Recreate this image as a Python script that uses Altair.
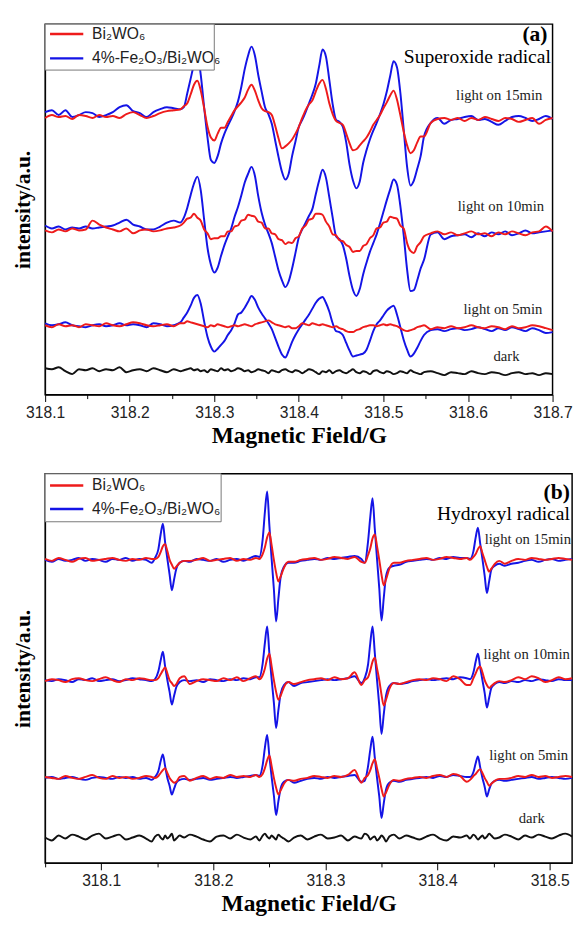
import altair as alt
import pandas as pd

S1 = "Bi₂WO₆"
S2 = "4%-Fe₂O₃/Bi₂WO₆"
RED = "#ee1b1b"
BLUE = "#1414e6"

# ================= panel (a): superoxide radical =================
a_field = ([318.100, 318.108, 318.116, 318.124, 318.132, 318.140, 318.148, 318.156, 318.164, 318.172,
            318.180, 318.188, 318.196, 318.204, 318.212, 318.220, 318.228, 318.236, 318.244, 318.252, 318.260]
           + [318.264, 318.268, 318.272, 318.276, 318.280, 318.284, 318.288, 318.292, 318.296, 318.300,
              318.304, 318.308, 318.312, 318.316, 318.320, 318.324, 318.328, 318.332, 318.336, 318.340,
              318.344, 318.348, 318.352, 318.356, 318.360, 318.364, 318.368, 318.372, 318.376, 318.380,
              318.384, 318.388, 318.392, 318.396, 318.400, 318.404, 318.408, 318.412, 318.416, 318.420,
              318.424, 318.428, 318.432, 318.436, 318.440, 318.444, 318.448, 318.452, 318.456, 318.460,
              318.464, 318.468, 318.472, 318.476, 318.480, 318.484, 318.488, 318.492, 318.496, 318.500,
              318.504, 318.508, 318.512, 318.516, 318.520, 318.524, 318.528, 318.532, 318.536, 318.540,
              318.544, 318.548]
           + [318.556, 318.564, 318.572, 318.580, 318.588, 318.596, 318.604, 318.612, 318.620, 318.628,
              318.636, 318.644, 318.652, 318.660, 318.668, 318.676, 318.684, 318.692, 318.700])

a15_blue = ([3, 5, 0, 5, -2, 0, 3, 2, -2, 0, 3, 8, 10, 4, 2, -2, 3, 6, 8, 7, 6]
            + [8, 22, 37, 52, 63, 41, 8, -23, -46, -49, -42, -29, -19, -11, -4, 4, 14, 29, 47, 61,
               70, 61, 41, 24, 8, 1, -9, -26, -43, -58, -66, -60, -42, -27, -12, -5, 3, 12, 21, 32,
               50, 67, 60, 36, 11, -5, -7, -12, -28, -51, -67, -75, -68, -49, -36, -25, -16, -8, 1, 11,
               24, 40, 55, 49, 23, -15, -53, -72, -67, -55, -42, -22]
            + [-8, -3, -9, -5, -4, -2, -1, -5, -4, -7, -10, -6, -2, -1, -3, -6, -4, -1, -4])
a15_red = ([-3, 0, -2, -1, -4, 0, -1, -3, 0, -2, -1, -3, 1, 3, 0, -3, -1, 2, 4, 5, 6]
           + [9, 12, 21, 31, 35, 25, 7, -12, -23, -26, -19, -13, -13, -7, -1, 5, 9, 13, 18, 26,
              31, 25, 15, 7, 4, 3, 0, -11, -24, -34, -32, -29, -25, -19, -12, -3, 5, 11, 15, 24,
              32, 36, 27, 12, 1, -6, -8, -10, -19, -29, -36, -35, -31, -27, -23, -17, -10, -5, 0, 7,
              13, 20, 25, 16, 0, -17, -31, -39, -36, -28, -22, -22]
           + [-8, -4, -3, -5, -3, -6, -3, -5, -2, -4, -6, -3, -4, -7, -5, -3, -9, -5, -3])
a10_blue = ([2, -1, 1, -2, 0, -1, 1, -1, 0, 1, 2, 5, 8, 3, 1, -2, -2, 1, 5, 7, 5]
            + [10, 20, 33, 45, 52, 38, 8, -21, -38, -46, -41, -29, -18, -9, -1, 11, 21, 33, 46, 55,
               62, 53, 32, 15, 3, -6, -16, -30, -44, -54, -61, -55, -42, -26, -10, -2, 5, 12, 19, 34,
               48, 59, 51, 31, 10, -9, -12, -18, -32, -50, -64, -70, -63, -48, -36, -25, -16, -7, 4, 16,
               28, 39, 49, 44, 22, -8, -43, -65, -64, -54, -42, -33]
            + [-7, -5, -12, -9, -8, -7, -10, -6, -9, -5, -7, -4, -8, -6, -3, -6, -5, -4, -3])
a10_red = ([-3, -5, -2, -4, -1, -3, -2, 7, 3, 0, -2, -4, -1, -6, -3, -2, -4, -3, -1, 0, 2]
           + [5, 9, 10, 14, 10, 7, -2, -6, -12, -11, -11, -9, -9, -4, -4, 1, 2, 7, 8, 13,
              12, 11, 6, 5, -1, -1, -6, -7, -12, -13, -17, -15, -16, -11, -9, -1, 2, 8, 9, 14,
              14, 13, 6, 1, -7, -8, -13, -14, -18, -20, -25, -24, -24, -19, -17, -11, -8, -1, 0, 5,
              6, 11, 10, 9, 2, -1, -16, -24, -26, -19, -15, -9]
           + [-6, -4, -7, -5, -8, -6, -4, -7, -6, -9, -5, -7, -4, -6, -8, -5, -4, 1, -4])
a5_blue = ([2, 0, 1, 3, 0, -1, -2, 0, 1, -1, 0, 2, 0, 1, 0, -2, 2, 1, -1, 0, 3]
           + [8, 13, 20, 28, 31, 22, 4, -12, -22, -27, -24, -20, -16, -10, -5, 2, 11, 13, 18, 24,
              30, 26, 18, 12, 7, 2, -4, -13, -22, -30, -33, -26, -17, -10, -4, 1, 6, 11, 17, 23,
              27, 29, 23, 14, 2, -6, -7, -10, -18, -26, -32, -31, -30, -29, -25, -16, -6, 1, 5, 10,
              15, 18, 20, 11, -2, -15, -25, -32, -29, -23, -16, -10]
           + [-5, -4, -6, -4, -3, -5, -4, -2, -4, -6, -3, -5, -2, -4, -6, -3, -5, -8, -7])
a5_red = ([0, -2, 1, -1, 0, -2, 1, 0, -1, 2, 0, -1, 1, 3, 2, 0, -1, 0, 1, -1, 2]
          + [2, 4, 3, 2, 1, 0, -1, -2, 0, -1, 1, 0, -1, -2, -1, 0, -1, 0, 1, 0,
             -1, 1, 2, 3, 4, 5, 3, 1, 0, -1, -2, -1, -3, -3, -1, 2, 1, 0, 2, 1,
             0, 1, 0, -1, -2, -1, -3, -4, -6, -7, -7, -5, -4, -2, -1, 0, 0, -1, 0, 1,
             0, 1, 0, -1, -3, -5, -6, -5, -4, -2, -1, 0]
          + [-4, -2, -3, -1, -3, -2, 0, -2, -3, -1, -2, -4, -1, -3, -2, 0, -1, -3, -5])
a_dark = [4, 3, 5, 1, -2, 3, 2, 4, 1, 3, 2, 5, 0, 2, 3, 1, 4, 2, 0, 3,
          1, 2, 3, 4, 2, 3, 1, 2, 0, 3, 2, 1, 4, 2, 3, 1, 2, 4, 3, 1,
          2, 0, 1, 3, 2, 1, -1, 2, 1, 0, 2, 3, 1, 0, 2, 1, -1, 1, 3, 2,
          0, -2, 1, 0, 2, -1, 1, 2, 0, -1, 1, 3, 0, -1, 1, 0, -2, 1, 2, 0,
          -1, 1, 0, -2, -1, 1, 0, -1, 2, 0, -1, -2, 0, 1, -1, -3, 0, -1, -2, 1,
          -1, -2, 0, -1, -3, -1, 0, -2, -1, -3, -1, -2]
# vertical stacking offsets of the traces (15, 10, 5 min, dark)
a_offsets = [286, 171, 71, 23]

# ================= panel (b): hydroxyl radical =================
b_field = ([318.050, 318.056, 318.062, 318.068, 318.074, 318.080, 318.086, 318.092, 318.098, 318.104,
            318.110, 318.116, 318.122, 318.128, 318.134, 318.140, 318.145]
           + [318.148, 318.151, 318.153, 318.155, 318.157, 318.159, 318.161, 318.163, 318.165, 318.167, 318.170, 318.174]
           + [318.179, 318.185, 318.191, 318.197, 318.203, 318.209, 318.215, 318.221, 318.227, 318.233, 318.238]
           + [318.241, 318.244, 318.246, 318.248, 318.250, 318.252, 318.254, 318.256, 318.258, 318.260, 318.263, 318.267]
           + [318.272, 318.278, 318.284, 318.290, 318.296, 318.302, 318.308, 318.314, 318.320, 318.326, 318.332]
           + [318.335, 318.338, 318.340, 318.342, 318.344, 318.346, 318.348, 318.350, 318.352, 318.354, 318.357, 318.361]
           + [318.366, 318.372, 318.378, 318.384, 318.390, 318.396, 318.402, 318.408, 318.414, 318.420, 318.426]
           + [318.429, 318.432, 318.434, 318.436, 318.438, 318.440, 318.442, 318.444, 318.446, 318.448, 318.451, 318.455]
           + [318.460, 318.466, 318.472, 318.478, 318.484, 318.490, 318.496, 318.502, 318.508, 318.514, 318.520])

b15_blue = ([0, -2, 1, -1, 0, 2, -1, 1, 0, -2, 1, 0, 2, -1, 1, 0, -3]
            + [2, 11, 26, 37, 18, 1, -15, -31, -20, -9, -3, -1]
            + [-2, 1, 0, -1, 1, -2, 0, 1, -1, 2, 4]
            + [3, 21, 49, 70, 35, 1, -30, -63, -40, -18, -7, -3]
            + [-3, -1, 0, 1, 0, 2, 1, 2, 3, 4, 1]
            + [-3, 19, 44, 63, 32, 1, -29, -62, -39, -17, -8, -6]
            + [-5, -2, -1, 0, 1, 0, 2, 1, 3, 2, 2]
            + [1, 9, 23, 33, 17, 1, -16, -34, -22, -10, -6, -4]
            + [-6, -4, -3, -1, 0, -2, 0, 1, -1, 0, 1])
b15_red = ([1, -1, 2, 0, -2, 1, 2, -1, 0, 1, 2, 0, -1, 1, 0, 2, 1]
           + [1, 3, 8, 14, 16, 9, 0, -5, -9, -7, -3, -1]
           + [-1, 0, 2, -1, 0, 1, 2, -1, 1, 0, 2]
           + [1, 6, 13, 23, 28, 15, 0, -13, -22, -17, -8, -2]
           + [-2, 0, 1, 2, 0, 1, 3, 2, 1, 3, -2]
           + [-3, 5, 12, 22, 26, 14, 0, -15, -26, -20, -9, -3]
           + [-3, -1, 0, 1, 2, 0, 1, 3, 2, 1, 2]
           + [0, 3, 6, 11, 14, 7, 0, -7, -12, -9, -4, -1]
           + [-4, -1, 1, 0, 2, 1, 0, 1, 2, 1, 0])
b10_blue = ([0, -1, 1, 0, -2, 1, 0, 2, -1, 0, 1, -1, 0, 2, 1, 0, -1]
            + [1, 9, 20, 29, 14, 0, -12, -25, -16, -7, -2, 0]
            + [-1, 0, -2, 1, 0, -1, 1, 0, 2, 1, 3]
            + [3, 17, 38, 55, 27, 1, -23, -49, -31, -14, -5, -2]
            + [-6, -3, -2, -1, 0, 1, 0, 1, 2, 4, -3]
            + [2, 16, 38, 55, 28, 0, -26, -55, -35, -16, -6, -3]
            + [-4, -3, -1, 0, 1, 0, 1, 2, 1, 3, 2]
            + [1, 8, 19, 27, 13, 0, -13, -28, -18, -8, -4, -2]
            + [-3, -1, -2, 0, -1, 1, 0, -1, 1, 0, 0])
b10_red = ([-1, 1, 0, -2, 1, 2, 0, -1, 1, 3, 0, -2, 1, 0, 2, 1, 0]
           + [0, 2, 6, 10, 13, 7, 0, -3, -6, -4, 2, 4]
           + [-4, -1, 1, 0, -1, 2, 0, 3, -1, 2, 4]
           + [1, 5, 12, 22, 27, 14, 0, -12, -20, -16, -7, -2]
           + [-4, -2, 0, 1, 2, 0, 3, 1, 2, 8, -5]
           + [0, 3, 10, 19, 23, 12, 0, -15, -26, -20, -9, -3]
           + [-4, -2, 0, 1, 0, 2, 1, -1, 4, 1, -5]
           + [-5, 2, 7, 12, 14, 8, 0, -5, -8, -6, -3, -1]
           + [-2, 0, 3, 1, 4, 2, -2, 0, 3, 1, 2])
b5_blue = ([0, 1, -1, 0, 1, -1, -2, 0, 1, 0, -1, 1, 0, 1, -1, 0, -2]
           + [1, 7, 17, 24, 12, 0, -8, -17, -11, -5, -2, -1]
           + [-2, -1, 0, -2, -1, 0, 1, 0, 1, 2, 3]
           + [2, 13, 31, 44, 22, 1, -18, -38, -24, -11, -4, -2]
           + [-5, -3, -1, 0, -1, 1, 0, 1, 2, 3, -4]
           + [-3, 12, 29, 42, 21, 0, -19, -41, -26, -12, -5, -3]
           + [-4, -2, -1, 0, 1, 0, 2, 1, 3, 2, 1]
           + [1, 6, 15, 22, 11, 0, -9, -19, -12, -6, -3, -2]
           + [-3, -2, -1, 0, 1, -1, 0, 1, 0, -1, 0])
b5_red = ([1, 0, -1, 2, 0, -1, 1, 3, 0, -1, 2, 0, 1, -1, 0, 2, 1]
          + [0, 2, 5, 8, 10, 5, 0, -3, -5, -4, 1, 2]
          + [-3, 0, 2, -1, 1, 0, 3, 1, 2, 1, 3]
          + [1, 4, 10, 18, 23, 12, 0, -10, -17, -13, -6, -2]
          + [-3, -1, 0, 2, 1, 0, 2, 1, 3, 8, -5]
          + [0, 3, 8, 15, 19, 10, 0, -11, -19, -15, -7, -2]
          + [-3, -1, 0, 1, 0, 2, 3, 1, 4, 2, -4]
          + [-2, 2, 4, 7, 9, 5, 0, -4, -8, -6, -3, -1]
          + [-1, 0, 2, 1, 3, 1, 2, 0, 1, 2, 1])
b_dark = [0, -3, 2, -1, 3, 1, -2, 2, 4, -1, 1, 3, -2, 0, 2, -1, -4, 1, 3, 0,
          -2, 2, -1, 1, 4, -3, -1, 2, 0, 3, 1, -2, -4, 1, 2, -1, 3, 0, -2, 1,
          -3, 2, 4, 1, -1, 2, 0, -2, 3, 1, -1, -4, 0, 2, -2, 1, 3, -1, 0, 2,
          -3, 1, -1, 4, 2, -2, 0, 1, -3, -1, 2, 0, -4, 1, 3, -1, 2, 0, -2, 1,
          3, -1, -3, 1, 0, 2, -1, 3, 1, -2, 0, 2, -1, 1, 4, 2, -1, 0, 3, 1,
          -2, 2, 0, 3, 1, -1, 2, 4, 1]
b_offsets = [310, 187, 87, 26]

# annotations: text, field position, vertical position
a_notes_bold = [("(a)", 318.694, 369)]
a_notes_big = [("Superoxide radical", 318.698, 345)]
a_notes_small = [("light on 15min", 318.688, 306), ("light on 10min", 318.690, 193),
                 ("light on 5min", 318.688, 88), ("dark", 318.661, 39)]
b_notes_bold = [("(b)", 318.518, 379)]
b_notes_big = [("Hydroxyl radical", 318.518, 357)]
b_notes_small = [("light on 15min", 318.519, 331), ("light on 10min", 318.518, 214),
                 ("light on 5min", 318.5165, 110), ("dark", 318.4956, 46)]

a_ticks = [318.1, 318.15, 318.2, 318.25, 318.3, 318.35, 318.4, 318.45, 318.5, 318.55, 318.6, 318.65, 318.7]
b_ticks = [318.05, 318.1, 318.15, 318.2, 318.25, 318.3, 318.35, 318.4, 318.45, 318.5]


def build(field, curves):
    rows = []
    for cid, series, offset, vals in curves:
        for f, r in zip(field, vals):
            rows.append({"field": f, "v": offset + r, "series": series, "curve": cid})
    return pd.DataFrame(rows)


def notes_df(notes):
    return pd.DataFrame([{"t": t, "field": f, "v": v} for t, f, v in notes])


MAJOR = "abs(datum.value*10 - round(datum.value*10)) < 0.001"
ONE = pd.DataFrame({"k": [0]})


def legend_layers(box_w, box_h, row1, row2):
    box = alt.Chart(ONE).mark_rect(fill="white", stroke="#777", strokeWidth=1).encode(
        x=alt.value(0), x2=alt.value(box_w), y=alt.value(0), y2=alt.value(box_h))
    l1 = alt.Chart(ONE).mark_rule(color=RED, strokeWidth=2.5).encode(
        x=alt.value(5), x2=alt.value(39), y=alt.value(row1))
    l2 = alt.Chart(ONE).mark_rule(color=BLUE, strokeWidth=2.5).encode(
        x=alt.value(5), x2=alt.value(39), y=alt.value(row2))
    txt = dict(align="left", baseline="middle", font="Liberation Sans", fontSize=16, color="#222")
    t1 = alt.Chart(ONE).mark_text(**txt).encode(x=alt.value(48), y=alt.value(row1), text=alt.value(S1))
    t2 = alt.Chart(ONE).mark_text(**txt).encode(x=alt.value(48), y=alt.value(row2), text=alt.value(S2))
    return [box, l1, l2, t1, t2]


def panel(field, blues, reds, dark, offs, xdom, ticks, w, h, nb, ng, ns, leg):
    blue_df = build(field, [("15", S2, offs[0], blues[0]), ("10", S2, offs[1], blues[1]), ("5", S2, offs[2], blues[2])])
    red_df = build(field, [("15", S1, offs[0], reds[0]), ("10", S1, offs[1], reds[1]), ("5", S1, offs[2], reds[2])])
    dark_df = build(field, [("dark", "dark", offs[3], dark)])

    x = alt.X("field:Q", title="Magnetic Field/G",
              scale=alt.Scale(domain=xdom, nice=False, zero=False),
              axis=alt.Axis(values=ticks, grid=False, labelFlush=False, labelOverlap=False,
                            labelExpr=f"({MAJOR}) ? format(datum.value, '.1f') : ''",
                            tickSize={"condition": {"test": MAJOR, "value": 7}, "value": 4},
                            tickColor="black", domainColor="black", labelColor="#222",
                            labelFont="Liberation Sans", labelFontSize=16, labelPadding=3,
                            titleFont="Liberation Serif", titleFontSize=24, titleFontWeight="bold",
                            titleColor="black", titlePadding=4))
    y = alt.Y("v:Q", title="intensity/a.u.",
              scale=alt.Scale(domain=[0, h], nice=False, zero=False),
              axis=alt.Axis(labels=False, ticks=False, grid=False, domainColor="black",
                            titleFont="Liberation Serif", titleFontSize=22, titleFontWeight="bold",
                            titleColor="black", titlePadding=11))
    color = alt.Color("series:N", scale=alt.Scale(domain=[S1, S2], range=[RED, BLUE]), legend=None)
    blue = alt.Chart(blue_df).mark_line(strokeWidth=2, interpolate="monotone").encode(
        x=x, y=y, color=color, detail="curve:N")
    red = alt.Chart(red_df).mark_line(strokeWidth=2, interpolate="monotone").encode(
        x=x, y=y, color=color, detail="curve:N")
    blk = alt.Chart(dark_df).mark_line(strokeWidth=2, color="#111", interpolate="monotone").encode(x=x, y=y)
    t1 = alt.Chart(notes_df(nb)).mark_text(align="right", baseline="middle", font="Liberation Serif",
                                           fontSize=22, fontWeight="bold", color="black").encode(x=x, y=y, text="t:N")
    t2 = alt.Chart(notes_df(ng)).mark_text(align="right", baseline="middle", font="Liberation Serif",
                                           fontSize=20, color="black").encode(x=x, y=y, text="t:N")
    t3 = alt.Chart(notes_df(ns)).mark_text(align="right", baseline="middle", font="Liberation Serif",
                                           fontSize=15, color="#222").encode(x=x, y=y, text="t:N")
    return alt.layer(blue, red, blk, t1, t2, t3, *legend_layers(*leg)).properties(width=w, height=h)


pa = panel(a_field, [a15_blue, a10_blue, a5_blue], [a15_red, a10_red, a5_red], a_dark, a_offsets,
           [318.1, 318.7], a_ticks, 519, 379, a_notes_bold, a_notes_big, a_notes_small, (173, 47, 10, 35))
pb = panel(b_field, [b15_blue, b10_blue, b5_blue], [b15_red, b10_red, b5_red], b_dark, b_offsets,
           [318.05, 318.52], b_ticks, 539, 398, b_notes_bold, b_notes_big, b_notes_small, (180, 49, 12, 36))

chart = (alt.vconcat(pa, pb, spacing=24)
         .resolve_scale(color="independent")
         .properties(padding={"left": 3, "top": 4, "right": 0, "bottom": 0}, background="white")
         .configure_view(stroke="black", strokeWidth=1.5))

chart.save("out.html", embed_options={"renderer": "svg", "actions": False})
